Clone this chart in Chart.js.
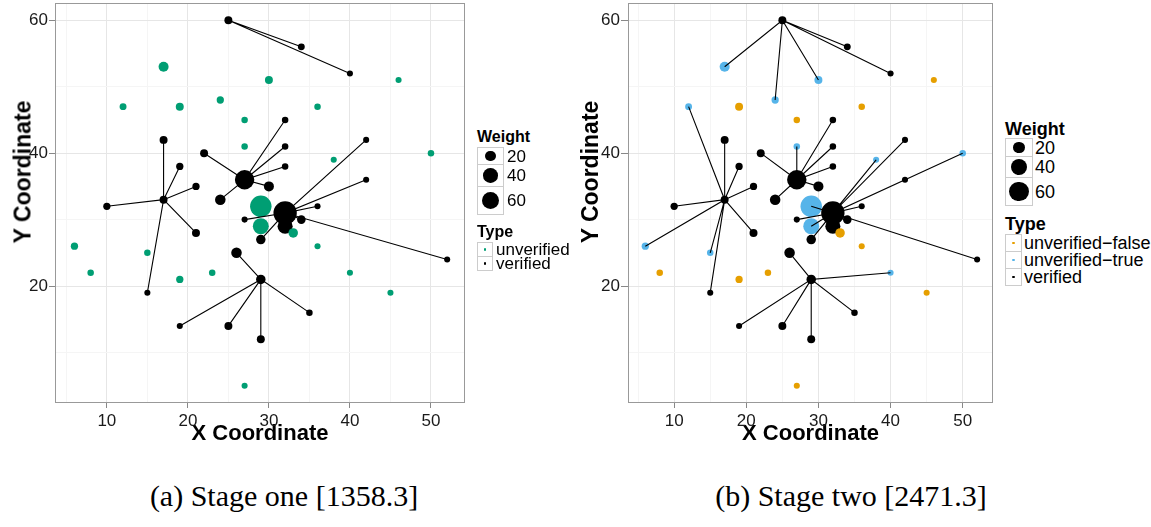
<!DOCTYPE html>
<html>
<head>
<meta charset="utf-8">
<title>Stage one / Stage two</title>
<script src="https://cdn.jsdelivr.net/npm/chart.js@4.4.1/dist/chart.umd.min.js"></script>
<style>
  body { margin: 0; width: 1151px; height: 527px; background: #fff; position: relative; overflow: hidden;
         font-family: "Liberation Sans", Arial, sans-serif; color: #000; }
  canvas { position: absolute; top: 0; }
  #chartOne { left: 0; }
  #chartTwo { left: 560px; }
  .ytitle { position: absolute; font-weight: bold; font-size: 23px; line-height: 1; white-space: nowrap;
            transform: translate(-50%, -50%) rotate(-90deg); }
  .caption { position: absolute; width: 500px; text-align: center; font-family: "Liberation Serif", serif;
             font-size: 30px; line-height: 1; white-space: nowrap; }
  .lgTitle { position: absolute; font-weight: bold; line-height: 1; white-space: nowrap; }
  .lgRow { position: absolute; display: flex; align-items: center; }
  .lgKey { box-sizing: border-box; border: 1px solid #cccccc; height: 100%; display: flex;
           align-items: center; justify-content: center; background: #fff; }
  .lgLabel { line-height: 1; white-space: nowrap; }
  .dot { border-radius: 50%; }
</style>
</head>
<body>
<canvas id="chartOne" width="470" height="450"></canvas>
<canvas id="chartTwo" width="440" height="450"></canvas>
<div class="ytitle" style="left:23px;top:172px">Y Coordinate</div>
<div class="ytitle" style="left:590px;top:172px">Y Coordinate</div>
<div class="caption" style="left:34px;top:481px">(a) Stage one [1358.3]</div>
<div class="caption" style="left:601px;top:481px">(b) Stage two [2471.3]</div>
<script>
// verified points (black in both stages)
const verifiedX = [25, 34, 40, 32, 32, 32, 22, 17, 19, 21, 27, 30, 17, 24, 10, 21, 15, 32, 36, 34, 27, 32, 29, 26, 29, 35, 19, 25, 29, 42, 42, 52];
const verifiedY = [60, 56, 52, 45, 41, 38, 40, 42, 38, 35, 36, 35, 33, 33, 32, 28, 19, 31, 32, 30, 30, 29, 27, 25, 21, 16, 14, 14, 12, 42, 36, 24];
const verifiedWeight = [12, 9, 7, 8, 8, 8, 12, 12, 10, 10, 71, 19, 12, 21, 10, 12, 7, 103, 7, 14, 7, 43, 17, 21, 17, 8, 7, 12, 12, 7, 7, 7];

// unverified points, and what stage two found for them (1 = true)
const unverifiedX = [17, 30, 12, 19, 24, 36, 27, 27, 38, 29, 29, 33, 6, 15, 36, 8, 19, 23, 40, 27, 46, 50, 45];
const unverifiedY = [53, 51, 47, 47, 48, 47, 45, 41, 39, 32, 29, 28, 26, 25, 26, 22, 21, 22, 22, 5, 51, 40, 19];
const unverifiedWeight = [19, 12, 9, 12, 10, 8, 8, 8, 7, 87, 48, 17, 10, 8, 7, 8, 10, 8, 7, 7, 7, 8, 7];
const unverifiedTrue = [1, 1, 1, 0, 1, 0, 0, 1, 1, 1, 1, 0, 1, 1, 0, 0, 0, 0, 1, 0, 0, 1, 0];

// links, first pair of every group is the hub
const linksOne = [
    [[25, 60], [34, 56], [40, 52]],
    [[17, 33], [17, 42], [19, 38], [21, 35], [10, 32], [21, 28], [15, 19]],
    [[27, 36], [22, 40], [32, 45], [32, 41], [32, 38], [30, 35], [24, 33]],
    [[32, 31], [27, 30], [29, 27], [32, 29], [34, 30], [36, 32], [42, 42], [42, 36], [52, 24]],
    [[29, 21], [26, 25], [19, 14], [25, 14], [29, 12], [35, 16]]
];
const linksTwo = [
    [[25, 60], [34, 56], [40, 52], [17, 53], [24, 48], [30, 51]],
    [[17, 33], [17, 42], [19, 38], [21, 35], [10, 32], [21, 28], [15, 19], [12, 47], [6, 26], [15, 25]],
    [[27, 36], [22, 40], [32, 45], [32, 41], [32, 38], [30, 35], [24, 33], [27, 41]],
    [[32, 31], [27, 30], [29, 27], [32, 29], [34, 30], [36, 32], [42, 42], [42, 36], [52, 24], [29, 32], [29, 29], [38, 39], [50, 40]],
    [[29, 21], [26, 25], [19, 14], [25, 14], [29, 12], [35, 16], [40, 22]]
];

// ticks
const xMajor = [10, 20, 30, 40, 50];
const xMinor = [5, 15, 25, 35, 45];
const yMajor = [20, 40, 60];
const yMinor = [10, 30, 50];
const weightBreaks = [20, 40, 60];

const typesOne = ['unverified', 'verified'];
const typesTwo = ['unverified\u2212false', 'unverified\u2212true', 'verified'];

const GREEN = '#009E73', ORANGE = '#E69F00', BLUE = '#56B4E9', BLACK = '#000000';

Chart.defaults.font.family = '"Liberation Sans", Arial, sans-serif';

const radius = w => 1.15 * Math.sqrt(w);

function points(xs, ys, ws, color, keep) {
    const data = [], r = [];
    xs.forEach((x, i) => {
        if (keep && !keep(i)) return;
        data.push({x: x, y: ys[i]});
        r.push(radius(ws[i]));
    });
    return {
        type: 'scatter', data: data, pointRadius: r, pointHoverRadius: r,
        backgroundColor: color, borderColor: color, pointBorderWidth: 0, order: 1
    };
}

// hub -> p1 -> hub -> p2 ... draws every spoke
function links(groups) {
    return groups.map(g => {
        const hub = {x: g[0][0], y: g[0][1]};
        const data = [];
        g.slice(1).forEach(p => data.push(hub, {x: p[0], y: p[1]}));
        return {
            type: 'line', data: data, showLine: true, borderColor: BLACK, borderWidth: 1.1,
            pointRadius: 0, fill: false, tension: 0, order: 0
        };
    });
}

// panel border like theme_bw
const frame = {
    id: 'frame',
    afterDraw(chart) {
        const {ctx, chartArea: a} = chart;
        ctx.save();
        ctx.strokeStyle = '#999999';
        ctx.lineWidth = 1;
        ctx.strokeRect(a.left + 0.5, a.top + 0.5, a.right - a.left - 1, a.bottom - a.top - 1);
        ctx.restore();
    }
};

function axisGrid(major, tickLen) {
    return {
        color: c => major.includes(c.tick.value) ? '#e6e6e6' : '#f5f5f5',
        tickColor: c => major.includes(c.tick.value) ? '#888888' : 'rgba(0,0,0,0)',
        tickLength: tickLen,
        lineWidth: 1
    };
}

function options(yWidth, tickLen, rightPad) {
    return {
        responsive: false,
        animation: false,
        events: [],
        layout: {autoPadding: false, padding: {top: 3, right: rightPad, left: 0, bottom: 0}},
        plugins: {legend: {display: false}, tooltip: {enabled: false}},
        scales: {
            x: {
                type: 'linear', min: 3.6, max: 54.2,
                afterBuildTicks: s => { s.ticks = xMinor.concat(xMajor).sort((a, b) => a - b).map(v => ({value: v})); },
                ticks: {autoSkip: false, maxRotation: 0, padding: 3, color: '#1a1a1a', font: {size: 17},
                        callback: v => xMajor.includes(v) ? String(v) : ''},
                grid: axisGrid(xMajor, 5),
                border: {display: false},
                title: {display: true, text: 'X Coordinate', color: BLACK, font: {size: 22, weight: 'bold'},
                        padding: {top: 0, bottom: 3}},
                afterFit: s => { s.height = 47; s.paddingLeft = 0; s.paddingRight = 0; }
            },
            y: {
                type: 'linear', min: 2.4, max: 62.6,
                afterBuildTicks: s => { s.ticks = yMinor.concat(yMajor).sort((a, b) => a - b).map(v => ({value: v})); },
                ticks: {autoSkip: false, padding: 1, color: '#1a1a1a', font: {size: 17},
                        callback: v => yMajor.includes(v) ? String(v) : ''},
                grid: axisGrid(yMajor, tickLen),
                border: {display: false},
                afterFit: s => { s.width = yWidth; s.paddingTop = 0; s.paddingBottom = 0; }
            }
        }
    };
}

new Chart(document.getElementById('chartOne'), {
    type: 'scatter',
    data: {datasets: [
        ...links(linksOne),
        points(unverifiedX, unverifiedY, unverifiedWeight, GREEN),
        points(verifiedX, verifiedY, verifiedWeight, BLACK)
    ]},
    options: options(55, 6, 5),
    plugins: [frame]
});

new Chart(document.getElementById('chartTwo'), {
    type: 'scatter',
    data: {datasets: [
        ...links(linksTwo),
        points(unverifiedX, unverifiedY, unverifiedWeight, ORANGE, i => !unverifiedTrue[i]),
        points(unverifiedX, unverifiedY, unverifiedWeight, BLUE, i => unverifiedTrue[i]),
        points(verifiedX, verifiedY, verifiedWeight, BLACK)
    ]},
    options: options(68, 7, 7),
    plugins: [frame]
});

// legends (html)
function legend(o) {
    const title = (text, base) => {
        const d = document.createElement('div');
        d.className = 'lgTitle';
        d.textContent = text;
        d.style.left = o.x + 'px';
        d.style.fontSize = o.titleSize + 'px';
        d.style.top = (base - 0.8465 * o.titleSize) + 'px';
        document.body.appendChild(d);
    };
    const row = (top, h, w, dotR, color, label) => {
        const r = document.createElement('div');
        r.className = 'lgRow';
        r.style.left = o.x + 'px';
        r.style.top = top + 'px';
        r.style.height = h + 'px';
        const k = document.createElement('div');
        k.className = 'lgKey';
        k.style.width = w + 'px';
        const dot = document.createElement('div');
        dot.className = 'dot';
        dot.style.width = dot.style.height = (2 * dotR) + 'px';
        dot.style.background = color;
        k.appendChild(dot);
        const t = document.createElement('div');
        t.className = 'lgLabel';
        t.textContent = label;
        t.style.fontSize = o.labelSize + 'px';
        t.style.marginLeft = o.gap + 'px';
        r.append(k, t);
        document.body.appendChild(r);
    };
    title('Weight', o.weightBase);
    weightBreaks.forEach((w, i) => row(o.weightRows[i][0], o.weightRows[i][1], o.keyW, radius(w) * o.scale, BLACK, String(w)));
    title('Type', o.typeBase);
    o.types.forEach((t, i) => row(o.typeTop + i * o.typeStep, o.typeStep + 1, o.typeW, 1.4, o.colors[i], t));
}

legend({x: 477, titleSize: 16, labelSize: 17, gap: 3, scale: 1,
        weightBase: 143, weightRows: [[147, 18], [164, 23], [186, 29]], keyW: 27,
        typeBase: 238, typeTop: 242, typeStep: 14, typeW: 16,
        types: typesOne, colors: [GREEN, BLACK]});

legend({x: 1005, titleSize: 18, labelSize: 18, gap: 2, scale: 1.1,
        weightBase: 135, weightRows: [[138, 19], [156, 22], [177, 29]], keyW: 28,
        typeBase: 230, typeTop: 234, typeStep: 17, typeW: 17,
        types: typesTwo, colors: [ORANGE, BLUE, BLACK]});
</script>
</body>
</html>
